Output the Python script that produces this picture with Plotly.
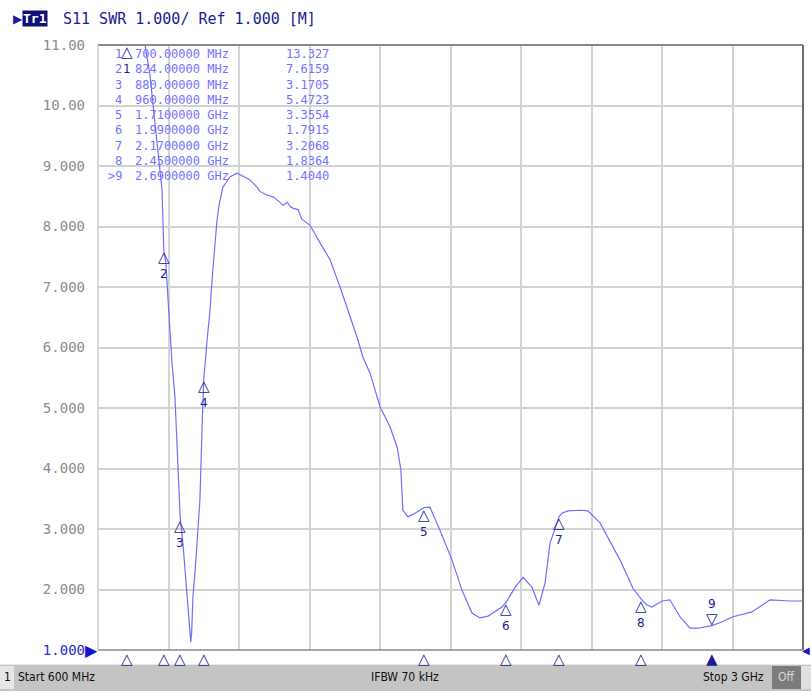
import numpy as np
import plotly.graph_objects as go

# ---------------- data ----------------
freq_mhz = [600, 700, 760, 777, 787, 804, 818, 824, 831, 838, 845, 852, 862, 869, 875, 880,
            889, 898, 906, 912, 916, 919, 923, 930, 937, 947, 955, 960, 971, 981, 988, 998,
            1005, 1012, 1025, 1049, 1073, 1094, 1117, 1141, 1151, 1175, 1196, 1215, 1230,
            1245, 1254, 1265, 1281, 1294, 1322, 1356, 1390, 1424, 1448, 1482, 1502, 1526,
            1560, 1594, 1618, 1631, 1638, 1655, 1679, 1710, 1730, 1764, 1805, 1839, 1873,
            1900, 1928, 1975, 1990, 2020, 2047, 2077, 2101, 2122, 2139, 2162, 2170, 2179,
            2200, 2241, 2268, 2309, 2377, 2421, 2450, 2470, 2486, 2520, 2547, 2581, 2615,
            2642, 2690, 2717, 2762, 2826, 2888, 2956, 3000]
swr = [17.0, 13.327, 11.0, 10.5, 10.05, 9.26, 8.6, 7.6159, 7.4, 6.83, 6.29, 5.74, 5.18, 4.4, 3.8, 3.1705,
       2.77, 2.2, 1.78, 1.45, 1.13, 1.3, 1.88, 2.27, 2.77, 3.48, 4.8, 5.4723, 6.1, 6.6, 7.1, 7.78,
       8.1, 8.35, 8.65, 8.82, 8.88, 8.83, 8.77, 8.65, 8.58, 8.52, 8.49, 8.42, 8.35,
       8.40, 8.33, 8.30, 8.28, 8.12, 8.02, 7.73, 7.45, 7.0, 6.67, 6.17, 5.84, 5.58,
       5.02, 4.69, 4.36, 3.98, 3.31, 3.20, 3.26, 3.3554, 3.36, 2.98, 2.49, 1.99, 1.61,
       1.53, 1.56, 1.71, 1.7915, 2.04, 2.2, 2.04, 1.74, 2.11, 2.77, 3.1, 3.2068, 3.26,
       3.30, 3.31, 3.3, 3.1, 2.49, 2.02, 1.8364, 1.74, 1.71, 1.81, 1.83, 1.55, 1.36,
       1.36, 1.404, 1.45, 1.55, 1.63, 1.83, 1.81, 1.81]

marker_ids = ["1", "2", "3", "4", "5", "6", "7", "8", "9"]
marker_freq_mhz = [700, 824, 880, 960, 1710, 1990, 2170, 2450, 2690]
marker_swr = [13.327, 7.6159, 3.1705, 5.4723, 3.3554, 1.7915, 3.2068, 1.8364, 1.4040]
marker_freq_text = ["700.00000 MHz", "824.00000 MHz", "880.00000 MHz", "960.00000 MHz",
                    "1.7100000 GHz", "1.9900000 GHz", "2.1700000 GHz", "2.4500000 GHz",
                    "2.6900000 GHz"]
marker_val_text = ["13.327", "7.6159", "3.1705", "5.4723", "3.3554", "1.7915", "3.2068",
                   "1.8364", "1.4040"]
active_marker = "9"

y_tick_vals = [1, 2, 3, 4, 5, 6, 7, 8, 9, 10, 11]
y_tick_text = ["1.000", "2.000", "3.000", "4.000", "5.000", "6.000", "7.000", "8.000",
               "9.000", "10.00", "11.00"]
x_grid_vals = [600, 840, 1080, 1320, 1560, 1800, 2040, 2280, 2520, 2760, 3000]

title_text = "S11 SWR 1.000/ Ref 1.000 [M]"
trace_label = "Tr1"
start_text = "Start 600 MHz"
ifbw_text = "IFBW 70 kHz"
stop_text = "Stop 3 GHz"

# ---------------- geometry helpers ----------------
W_FIG, H_FIG = 811, 691
L, R, T, B = 98, 803, 45, 650
PW, PH = R - L, B - T


def px(x):
    return (x - L) / PW


def py(y):
    return (B - y) / PH


Y_MIN, Y_MAX = 1, 11
TRACE_COLOR = "#6f6fff"
NAVY = "#1c1c96"
MONO = "DejaVu Sans Mono"

fig = go.Figure()
fig.add_trace(go.Scatter(
    x=freq_mhz, y=np.minimum(np.array(swr), Y_MAX), mode="lines",
    line=dict(color=TRACE_COLOR, width=1.2), hoverinfo="skip", showlegend=False))

ann = []
# marker glyphs on trace
for mid, f, v in zip(marker_ids, marker_freq_mhz, marker_swr):
    if mid == active_marker:
        ann.append(dict(x=f, y=v, xref="x", yref="y",
                        text=f"{mid}<br><span style='font-size:15px'>▽</span>", showarrow=False,
                        xanchor="center", yanchor="bottom", yshift=-4,
                        font=dict(family="DejaVu Sans", size=12, color=NAVY)))
    else:
        yy = min(v, Y_MAX)
        ann.append(dict(x=f, y=yy, xref="x", yref="y",
                        text=f"<span style='font-size:15px'>△</span><br>{mid}", showarrow=False,
                        xanchor="center", yanchor="top", yshift=4,
                        font=dict(family="DejaVu Sans", size=12, color=NAVY)))
    # bottom marker indicators
    ann.append(dict(x=f, y=0, xref="x", yref="paper",
                    text="▲" if mid == active_marker else "△", showarrow=False,
                    xanchor="center", yanchor="top", yshift=2,
                    font=dict(family="DejaVu Sans", size=15, color=NAVY)))

# marker table
for i, (mid, ft, vt) in enumerate(zip(marker_ids, marker_freq_text, marker_val_text)):
    yrow = 54 + i * 15.25
    label = (">" + mid) if mid == active_marker else mid
    common = dict(xref="paper", yref="paper", showarrow=False, yanchor="middle",
                  font=dict(family=MONO, size=12, color="#7373ff"))
    ann.append(dict(x=px(124), y=py(yrow), text=label, xanchor="right", **common))
    ann.append(dict(x=px(133), y=py(yrow), text=ft, xanchor="left", **common))
    ann.append(dict(x=px(284), y=py(yrow), text=vt, xanchor="left", **common))

# reference level arrows
ann.append(dict(x=0, y=0, xref="paper", yref="paper", text="▶", showarrow=False,
                xanchor="right", yanchor="middle", xshift=2,
                font=dict(family="DejaVu Sans", size=16, color="#1515c8")))
ann.append(dict(x=1, y=0, xref="paper", yref="paper", text="◀", showarrow=False,
                xanchor="left", yanchor="middle", xshift=-3,
                font=dict(family="DejaVu Sans", size=10, color="#1515c8")))

# header
ann.append(dict(x=px(11), y=py(19), xref="paper", yref="paper", text="▶", showarrow=False,
                xanchor="left", yanchor="middle",
                font=dict(family="DejaVu Sans", size=12, color=NAVY)))
ann.append(dict(x=px(22), y=py(19), xref="paper", yref="paper", text=f"<b>{trace_label}</b>",
                showarrow=False, xanchor="left", yanchor="middle", bgcolor="#10107a",
                borderpad=0, font=dict(family=MONO, size=13, color="white")))
ann.append(dict(x=px(61), y=py(19), xref="paper", yref="paper", text=title_text,
                showarrow=False, xanchor="left", yanchor="middle",
                font=dict(family=MONO, size=15, color=NAVY)))

# status bar texts
SB_Y = py(677)
sb_font = dict(family="DejaVu Sans Condensed", size=12, color="#101010")
ann.append(dict(x=px(7), y=SB_Y, xref="paper", yref="paper", text="1", showarrow=False,
                xanchor="center", yanchor="middle", font=sb_font))
ann.append(dict(x=px(16), y=SB_Y, xref="paper", yref="paper", text=start_text,
                showarrow=False, xanchor="left", yanchor="middle", font=sb_font))
ann.append(dict(x=px(405), y=SB_Y, xref="paper", yref="paper", text=ifbw_text,
                showarrow=False, xanchor="center", yanchor="middle", font=sb_font))
ann.append(dict(x=px(766), y=SB_Y, xref="paper", yref="paper", text=stop_text,
                showarrow=False, xanchor="right", yanchor="middle", font=sb_font))
ann.append(dict(x=px(786), y=SB_Y, xref="paper", yref="paper", text="Off",
                showarrow=False, xanchor="center", yanchor="middle",
                font=dict(family="DejaVu Sans Condensed", size=12, color="#d8d8d8")))

shapes = [
    # status bar
    dict(type="rect", xref="paper", yref="paper", x0=px(0), x1=px(811), y0=py(691), y1=py(664),
         fillcolor="#c4c4c4", line=dict(width=0), layer="above"),
    dict(type="line", xref="paper", yref="paper", x0=px(0), x1=px(811), y0=py(664.5), y1=py(664.5),
         line=dict(color="#e8e8e8", width=1)),
    dict(type="rect", xref="paper", yref="paper", x0=px(0), x1=px(14), y0=py(689), y1=py(666),
         fillcolor="#e6e6e6", line=dict(width=0)),
    dict(type="rect", xref="paper", yref="paper", x0=px(772), x1=px(801), y0=py(689), y1=py(666),
         fillcolor="#7c7c7c", line=dict(width=0)),
    dict(type="rect", xref="paper", yref="paper", x0=px(801), x1=px(811), y0=py(689), y1=py(666),
         fillcolor="#e0e0e0", line=dict(width=0)),
    # plot borders
    dict(type="line", xref="paper", yref="paper", x0=0, x1=1, y0=1, y1=1,
         line=dict(color="#8a8a8a", width=2)),
    dict(type="line", xref="paper", yref="paper", x0=1, x1=1, y0=0, y1=1,
         line=dict(color="#6e6e6e", width=2)),
    dict(type="line", xref="paper", yref="paper", x0=0, x1=1, y0=0, y1=0,
         line=dict(color="#8a8a8a", width=1.5)),
    dict(type="line", xref="paper", yref="paper", x0=0, x1=0, y0=0, y1=1,
         line=dict(color="#cfcfcf", width=1.5)),
]

ticktext = [f"<span style='color:#2a2ad0'>{t}</span>" if v == 1 else t
            for v, t in zip(y_tick_vals, y_tick_text)]

fig.update_layout(
    width=W_FIG, height=H_FIG,
    margin=dict(l=L, r=W_FIG - R, t=T, b=H_FIG - B),
    paper_bgcolor="white", plot_bgcolor="white",
    showlegend=False,
    annotations=ann, shapes=shapes,
    xaxis=dict(range=[600, 3000], tickvals=x_grid_vals, showticklabels=False,
               showgrid=True, gridcolor="#d3d3d3", gridwidth=1.5, zeroline=False,
               showline=False, ticks="", fixedrange=True),
    yaxis=dict(range=[Y_MIN, Y_MAX], tickvals=y_tick_vals, ticktext=ticktext,
               showgrid=True, gridcolor="#d3d3d3", gridwidth=1.5, zeroline=False,
               showline=False, ticks="", ticklabelstandoff=12,
               tickfont=dict(family=MONO, size=14, color="#8c8c8c"), fixedrange=True),
)

fig.write_html("out.html", config={"displayModeBar": False},
               post_script="document.body.style.margin='0';document.body.style.overflow='hidden';")
